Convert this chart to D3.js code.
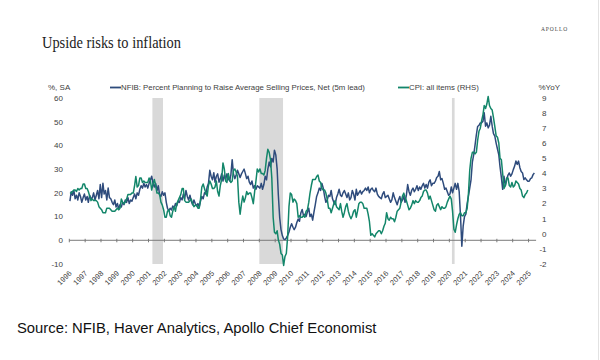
<!DOCTYPE html>
<html><head><meta charset="utf-8">
<script src="https://cdn.jsdelivr.net/npm/d3@7"></script>
<style>body{margin:0;background:#fff}svg{display:block}</style>
</head><body>
<svg id="c" width="600" height="360"></svg>
<script>
const titleText = "Upside risks to inflation";
const brandText = "APOLLO";
const sourceText = "Source: NFIB, Haver Analytics, Apollo Chief Economist";
const leftUnit = "%, SA";
const rightUnit = "%YoY";
const seriesNames = ["NFIB: Percent Planning to Raise Average Selling Prices, Net (5m lead)", "CPI: all items (RHS)"];

// monthly values, first month Jan 1996 (NFIB already shifted by the 5m lead)
const nfib = [
  16.5, 20.5, 19, 21, 17.5, 19, 17, 20, 18.5, 16, 18, 19.5,      // 1996
  17, 18.5, 16, 19, 17.5, 18, 20, 17, 19, 21, 17.5, 23.5,        // 1997
  18, 24, 19.5, 21, 17, 22, 18, 17.5, 16, 15, 17, 14,            // 1998
  15.5, 13, 15, 14, 16, 15, 17, 16, 18, 15.5, 17, 16.5,          // 1999
  18, 19.5, 17.5, 20, 19, 21.5, 23, 22, 24, 22.5, 23.5, 22,      // 2000
  24, 25.5, 27, 24, 22.5, 24, 21, 23, 19, 18.5, 20.5, 19,        // 2001
  20, 16, 13.5, 12.5, 13.5, 12.8, 14.5, 13.5, 15.5, 14.5, 16.5, 16, // 2002
  18, 17, 19.5, 17.5, 21, 18.5, 17, 19, 16.5, 15, 17, 15.5,      // 2003
  14.5, 15.5, 14, 16.5, 18.5, 17.5, 20, 19.5, 22.5, 24, 29.5, 27, // 2004
  25.5, 28.5, 24.5, 27, 28, 24.5, 26, 28, 25, 27.5, 25.5, 28,    // 2005
  26, 25, 27.5, 34, 28, 26, 27.5, 29.5, 28, 26.5, 28, 29,        // 2006
  30, 28, 26, 27, 24.5, 23.5, 25, 22, 23, 21.5, 23, 22.5,        // 2007
  22, 24, 21.5, 23.5, 27, 25.5, 30, 33, 31, 34.5, 33, 38,        // 2008
  36, 30, 19, 9.5, 4.5, 2, 0.5, 0.3, 1, 2, 3.5, 5.5,             // 2009
  7, 5.5, 4.5, 5.5, 7.5, 9, 8, 11.5, 13, 10.5, 11, 10,           // 2010
  12, 13.5, 10, 11, 8.5, 12, 15, 18.5, 20, 22, 21, 24,           // 2011
  22, 18.5, 16, 17, 19, 18.5, 21, 17.5, 16, 15, 18, 19.5,        // 2012
  21.5, 19, 18.5, 20, 21, 19.5, 18, 20, 17, 18, 21, 19.5,        // 2013
  17, 21.5, 19, 20, 21, 19.5, 20.5, 21, 22, 21, 22.5, 20,        // 2014
  21.5, 22, 21, 20.5, 22, 19.5, 18.5, 18, 17.5, 19.5, 20.5, 18,  // 2015
  18.5, 19, 17.5, 16, 17, 20, 18, 16.5, 15, 17, 18.5, 16,        // 2016
  17, 18.5, 16, 19, 23.5, 20.5, 19, 21, 22, 20.5, 21.5, 23,      // 2017
  21, 22.5, 21.5, 23, 24, 22, 23.5, 22, 24.5, 25.5, 23, 24,      // 2018
  24, 25, 26.5, 27, 29, 25.5, 26, 24, 21.5, 22, 20.5, 19,        // 2019
  19.5, 22.5, 20, 22, 24, 21.5, 24, 20.5, 10, -2.5, 6, 10,       // 2020
  11, 15.5, 18.5, 22, 25.5, 33, 36, 40, 44.5, 48, 48.5, 49.5,    // 2021
  49.5, 50.2, 53.8, 48.1, 49.5, 47.4, 48.5, 52.3, 48.1, 45, 43.9, 41, // 2022
  38.5, 36, 31, 26.5, 21.5, 27, 23, 25.5, 27.5, 28.4, 27, 28,    // 2023
  29.8, 31.3, 33.4, 32, 33.4, 30.6, 29, 28.4, 25.6, 26.3, 25.5, 24.9, // 2024
  24.9, 26, 26.3, 27.7, 28.4                                     // 2025
];
const cpi = [
  2.7, 2.7, 2.8, 2.9, 2.9, 2.8, 3.0, 2.9, 3.0, 3.0, 3.3, 3.3,    // 1996
  3.0, 3.0, 2.8, 2.5, 2.2, 2.3, 2.2, 2.2, 2.2, 2.1, 1.8, 1.7,    // 1997
  1.6, 1.4, 1.4, 1.4, 1.7, 1.7, 1.7, 1.6, 1.5, 1.5, 1.5, 1.6,    // 1998
  1.7, 1.6, 1.7, 2.3, 2.1, 2.0, 2.1, 2.3, 2.6, 2.6, 2.6, 2.7,    // 1999
  2.7, 3.2, 3.8, 3.1, 3.2, 3.7, 3.7, 3.4, 3.5, 3.4, 3.4, 3.4,    // 2000
  3.7, 3.5, 2.9, 3.3, 3.6, 3.2, 2.7, 2.7, 2.6, 2.1, 1.9, 1.6,    // 2001
  1.1, 1.1, 1.5, 1.6, 1.2, 1.1, 1.5, 1.8, 1.5, 2.0, 2.2, 2.4,    // 2002
  2.6, 3.0, 3.0, 2.2, 2.1, 2.1, 2.1, 2.2, 2.3, 2.0, 1.8, 1.9,    // 2003
  1.9, 1.7, 1.7, 2.3, 3.1, 3.3, 3.0, 2.7, 2.5, 3.2, 3.5, 3.3,    // 2004
  3.0, 3.0, 3.1, 3.5, 2.8, 2.5, 3.2, 3.6, 4.7, 4.3, 3.5, 3.4,    // 2005
  4.0, 3.6, 3.4, 3.5, 4.2, 4.3, 4.1, 3.8, 2.1, 1.3, 2.0, 2.5,    // 2006
  2.1, 2.4, 2.8, 2.6, 2.7, 2.7, 2.4, 2.0, 2.8, 3.5, 4.3, 4.1,    // 2007
  4.3, 4.0, 4.0, 3.9, 4.2, 5.0, 5.6, 5.4, 4.9, 3.7, 1.1, 0.1,    // 2008
  0.0, 0.2, -0.4, -0.7, -1.3, -1.4, -2.1, -1.5, -1.3, -0.2, 1.8, 2.7, // 2009
  2.6, 2.1, 2.3, 2.2, 2.0, 1.1, 1.2, 1.1, 1.1, 1.2, 1.1, 1.5,    // 2010
  1.6, 2.1, 2.7, 3.2, 3.6, 3.6, 3.6, 3.8, 3.9, 3.5, 3.4, 3.0,    // 2011
  2.9, 2.9, 2.7, 2.3, 1.7, 1.7, 1.4, 1.7, 2.0, 2.2, 1.8, 1.7,    // 2012
  1.6, 2.0, 1.5, 1.1, 1.4, 1.8, 2.0, 1.5, 1.2, 1.0, 1.2, 1.5,    // 2013
  1.6, 1.1, 1.5, 2.0, 2.1, 2.1, 2.0, 1.7, 1.7, 1.7, 1.3, 0.8,    // 2014
  -0.1, 0.0, -0.1, -0.2, 0.0, 0.1, 0.2, 0.2, 0.0, 0.2, 0.5, 0.7, // 2015
  1.4, 1.0, 0.9, 1.1, 1.0, 1.0, 0.8, 1.1, 1.5, 1.6, 1.7, 2.1,    // 2016
  2.5, 2.7, 2.4, 2.2, 1.9, 1.6, 1.7, 1.9, 2.2, 2.0, 2.2, 2.1,    // 2017
  2.1, 2.2, 2.4, 2.5, 2.8, 2.9, 2.9, 2.7, 2.3, 2.5, 2.2, 1.9,    // 2018
  1.6, 1.5, 1.9, 2.0, 1.8, 1.6, 1.8, 1.7, 1.7, 1.8, 2.1, 2.3,    // 2019
  2.5, 2.3, 1.5, 0.3, 0.1, 0.6, 1.0, 1.3, 1.4, 1.2, 1.2, 1.4,    // 2020
  1.4, 1.7, 2.6, 4.2, 5.0, 5.4, 5.4, 5.3, 5.4, 6.2, 6.8, 7.0,    // 2021
  7.5, 7.9, 8.5, 8.3, 8.6, 9.1, 8.5, 8.3, 8.2, 7.7, 7.1, 6.5,    // 2022
  6.4, 6.0, 5.0, 4.9, 4.0, 3.0, 3.2, 3.7, 3.7, 3.2, 3.1, 3.4,    // 2023
  3.1, 3.2, 3.5, 3.4, 3.3, 3.0, 2.9, 2.5, 2.4, 2.6, 2.7, 2.9     // 2024
];
const recessions = [["2001-04-01", "2001-12-01"], ["2008-01-01", "2009-07-01"], ["2020-03-01", "2020-05-01"]];
const leftTicks = [-10, 0, 10, 20, 30, 40, 50, 60];
const rightTicks = [-2, -1, 0, 1, 2, 3, 4, 5, 6, 7, 8, 9];
const yearTicks = ["1996","1997","1998","1999","2000","2001","2002","2003","2004","2005","2006","2007","2008","2009","2010","2011","2012","2013","2014","2015","2016","2017","2018","2019","2020","2021","2022","2023","2024","2025"];

const colors = {nfib: "#2e4b7c", cpi: "#13866a", shade: "#d9d9d9", text: "#404040", axis: "#7a7a7a"};
const svg = d3.select("#c");
const parse = d3.timeParse("%Y-%m-%d");
const monthDate = i => new Date(1996, i, 15);

const x = d3.scaleTime().domain([new Date(1996, 0, 1), new Date(2025, 5, 1)]).range([69.3, 535.1]);
const yL = d3.scaleLinear().domain([-10, 60]).range([264, 98]);
const yR = d3.scaleLinear().domain([-2, 9]).range([264, 98]);

svg.append("rect").attr("width", 600).attr("height", 360).attr("fill", "#fff");
svg.append("line").attr("x1", 598.5).attr("x2", 598.5).attr("y1", 0).attr("y2", 360).attr("stroke", "#e2e2e2");

// title & brand
svg.append("text").attr("x", 42).attr("y", 47.5).text(titleText)
  .attr("font-family", "Liberation Serif, serif").attr("font-size", 16).attr("fill", "#222")
  .attr("textLength", 139).attr("lengthAdjust", "spacingAndGlyphs");
svg.append("text").attr("x", 541).attr("y", 31).text(brandText)
  .attr("font-family", "Liberation Serif, serif").attr("font-size", 5.5).attr("fill", "#444")
  .attr("letter-spacing", 0.9);

// recession shading
svg.selectAll("rect.rec").data(recessions).join("rect").attr("class", "rec")
  .attr("x", d => x(parse(d[0]))).attr("width", d => x(parse(d[1])) - x(parse(d[0])))
  .attr("y", yL(60)).attr("height", yL(-10) - yL(60)).attr("fill", colors.shade);

// x axis at zero
const xAxis = svg.append("g").attr("transform", `translate(0,${yL(0)})`);
xAxis.append("line").attr("x1", x(new Date(1996, 0, 1))).attr("x2", x(new Date(2025, 5, 1)) + 1)
  .attr("stroke", colors.axis).attr("stroke-width", 1);
xAxis.selectAll("line.tk").data(yearTicks).join("line").attr("class", "tk")
  .attr("x1", d => x(new Date(+d, 0, 1))).attr("x2", d => x(new Date(+d, 0, 1)))
  .attr("y1", -1.5).attr("y2", 2).attr("stroke", colors.axis);
svg.selectAll("text.yr").data(yearTicks).join("text").attr("class", "yr")
  .attr("transform", d => `translate(${x(new Date(+d, 0, 1)) + 1},${272}) rotate(-45)`)
  .attr("text-anchor", "end").attr("dy", "0.35em")
  .attr("font-family", "Liberation Sans, Arial, sans-serif").attr("font-size", 7.5).attr("fill", colors.text)
  .text(d => d);

// y labels
svg.selectAll("text.yl").data(leftTicks).join("text").attr("class", "yl")
  .attr("x", 63).attr("y", d => yL(d)).attr("dy", "0.35em").attr("text-anchor", "end")
  .attr("font-family", "Liberation Sans, Arial, sans-serif").attr("font-size", 8).attr("fill", colors.text)
  .text(d => d);
svg.selectAll("text.yr2").data(rightTicks).join("text").attr("class", "yr2")
  .attr("x", 546.5).attr("y", d => yR(d)).attr("dy", "0.35em").attr("text-anchor", "end")
  .attr("font-family", "Liberation Sans, Arial, sans-serif").attr("font-size", 8).attr("fill", colors.text)
  .text(d => d);
svg.append("text").attr("x", 48).attr("y", 90).text(leftUnit)
  .attr("font-family", "Liberation Sans, Arial, sans-serif").attr("font-size", 8).attr("fill", colors.text);
svg.append("text").attr("x", 538.5).attr("y", 90).text(rightUnit)
  .attr("font-family", "Liberation Sans, Arial, sans-serif").attr("font-size", 8).attr("fill", colors.text);

// lines
const lineL = d3.line().x((d, i) => x(monthDate(i))).y(d => yL(d));
const lineR = d3.line().x((d, i) => x(monthDate(i))).y(d => yR(d));
svg.append("path").datum(nfib).attr("d", lineL).attr("fill", "none")
  .attr("stroke", colors.nfib).attr("stroke-width", 1.5).attr("stroke-linejoin", "round");
svg.append("path").datum(cpi).attr("d", lineR).attr("fill", "none")
  .attr("stroke", colors.cpi).attr("stroke-width", 1.5).attr("stroke-linejoin", "round");

// legend
const leg = [{name: seriesNames[0], c: colors.nfib, x: 110}, {name: seriesNames[1], c: colors.cpi, x: 398}];
leg.forEach(l => {
  svg.append("line").attr("x1", l.x).attr("x2", l.x + 11).attr("y1", 87.5).attr("y2", 87.5)
    .attr("stroke", l.c).attr("stroke-width", 1.8);
  svg.append("text").attr("x", l.x + 11).attr("y", 90.3).text(l.name)
    .attr("font-family", "Liberation Sans, Arial, sans-serif").attr("font-size", 7.8).attr("fill", colors.text);
});

// source
svg.append("text").attr("x", 17).attr("y", 333).text(sourceText)
  .attr("font-family", "Liberation Sans, Arial, sans-serif").attr("font-size", 14.8).attr("fill", "#111");
</script>
</body></html>
